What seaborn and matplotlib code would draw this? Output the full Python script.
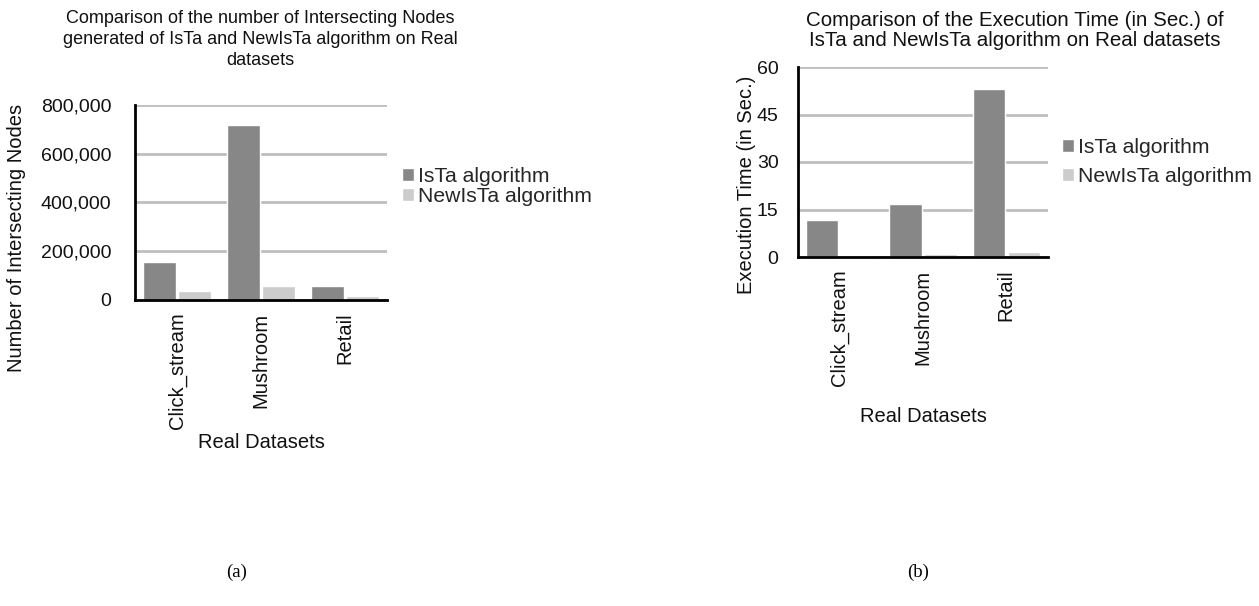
import numpy as np
import pandas as pd
import seaborn as sns
import matplotlib
matplotlib.use("Agg")
import matplotlib.pyplot as plt
from matplotlib.ticker import FuncFormatter

# ---- data ----
datasets = ["Click_stream", "Mushroom", "Retail"]
algorithms = ["IsTa algorithm", "NewIsTa algorithm"]
nodes_ista = [156000, 717000, 59000]
nodes_newista = [36000, 56000, 16500]
time_ista = [11.7, 16.7, 52.9]
time_newista = [0.7, 1.0, 1.7]
nodes_ticks = [0, 200000, 400000, 600000, 800000]
time_ticks = [0, 15, 30, 45, 60]

df_nodes = pd.DataFrame({
    "Dataset": datasets * 2,
    "Algorithm": [algorithms[0]] * 3 + [algorithms[1]] * 3,
    "Value": nodes_ista + nodes_newista,
})
df_time = pd.DataFrame({
    "Dataset": datasets * 2,
    "Algorithm": [algorithms[0]] * 3 + [algorithms[1]] * 3,
    "Value": time_ista + time_newista,
})

sns.set_theme(style="white")
plt.rcParams["font.family"] = ["Liberation Sans", "DejaVu Sans"]

W, H = 1259, 606
fig = plt.figure(figsize=(W / 100, H / 100), dpi=100)

palette = ["#878787", "#cccccc"]
grid_c = "#bfbfbf"

def px_axes(l, t, r, b):
    return fig.add_axes([l / W, 1 - b / H, (r - l) / W, (b - t) / H])

ax1 = px_axes(135, 105, 387, 300)
ax2 = px_axes(798, 67, 1048, 257)

def style(ax, df, ticks, ylabel, ypad, fmt, leg_xy, labelspacing):
    sns.barplot(data=df, x="Dataset", y="Value", hue="Algorithm",
                palette=palette, width=0.84, gap=0.07, errorbar=None,
                saturation=1, ax=ax)
    ax.set_xlim(-0.5, 2.5)
    ax.set_ylim(ticks[0], ticks[-1])
    ax.set_yticks(ticks)
    ax.yaxis.set_major_formatter(FuncFormatter(fmt))
    ax.set_axisbelow(True)
    ax.yaxis.grid(True, color=grid_c, linewidth=2)
    ax.xaxis.grid(False)
    for s in ["top", "right"]:
        ax.spines[s].set_visible(False)
    for s in ["left", "bottom"]:
        ax.spines[s].set_color("black")
        ax.spines[s].set_linewidth(2)
    ax.tick_params(axis="y", length=0, pad=ypad, labelsize=14, colors="#111111")
    ax.tick_params(axis="x", length=0, pad=9, labelsize=14.5, colors="#111111",
                   labelrotation=90)
    ax.set_xlabel("Real Datasets", fontsize=14.5, color="#111111")
    ax.set_ylabel(ylabel, fontsize=14.5, color="#111111")
    ax.xaxis.label.set_va("center")
    ax.yaxis.label.set_va("center")
    ax.legend(loc="center left", bbox_to_anchor=(leg_xy[0] / W, 1 - leg_xy[1] / H),
              bbox_transform=fig.transFigure, frameon=False, fontsize=15.2,
              handlelength=0.55, handleheight=0.55, handletextpad=0.2,
              borderpad=0, borderaxespad=0, labelspacing=labelspacing,
              title=None)

style(ax1, df_nodes, nodes_ticks, "Number of Intersecting Nodes", 17,
      lambda v, p: f"{int(v):,}", (402, 186.5), 0.05)
style(ax2, df_time, time_ticks, "Execution Time (in Sec.)", 14,
      lambda v, p: f"{int(v)}", (1062, 162), 0.45)

ax1.xaxis.set_label_coords(0.5, -(442 - 300) / 195)
ax1.yaxis.set_label_coords((17 - 135) / 252, (300 - 238) / 195)
ax2.xaxis.set_label_coords(0.5, -(416 - 257) / 190)
ax2.yaxis.set_label_coords((747 - 798) / 250, (257 - 185) / 190)

fig.text(260 / W, 1 - 10 / H,
         "Comparison of the number of Intersecting Nodes\n"
         "generated of IsTa and NewIsTa algorithm on Real\n"
         "datasets",
         ha="center", va="top", fontsize=13, color="#111111", linespacing=1.3)
fig.text(1015 / W, 1 - 11 / H,
         "Comparison of the Execution Time (in Sec.) of\n"
         "IsTa and NewIsTa algorithm on Real datasets",
         ha="center", va="top", fontsize=14.8, color="#111111", linespacing=1.05)

fig.text(237 / W, 1 - 572 / H, "(a)", ha="center", va="center",
         fontsize=13.5, family=["Liberation Serif", "DejaVu Serif"], color="black")
fig.text(918 / W, 1 - 572 / H, "(b)", ha="center", va="center",
         fontsize=13.5, family=["Liberation Serif", "DejaVu Serif"], color="black")

fig.savefig("out.png", dpi=100, facecolor="white")
